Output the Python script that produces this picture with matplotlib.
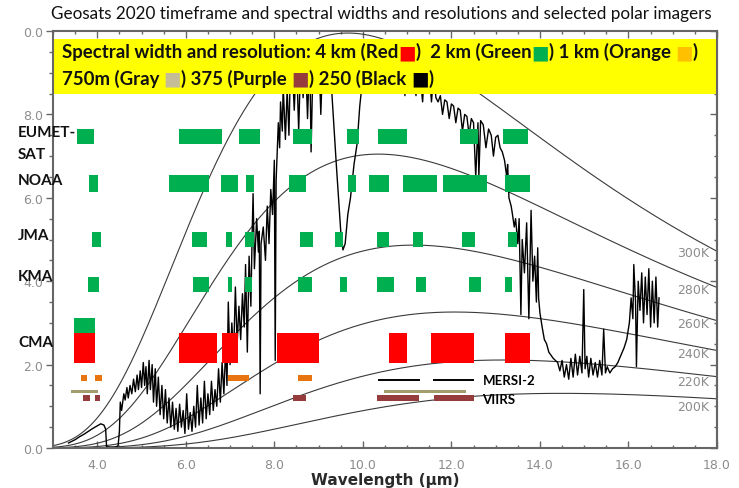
import numpy as np
import matplotlib.pyplot as plt
from matplotlib.patches import Rectangle
from matplotlib.ticker import MultipleLocator, FixedLocator

# ---- blackbody reference curves ----
temps = [200, 220, 240, 260, 280, 300]
temp_label_y = [1.00, 1.60, 2.26, 2.98, 3.81, 4.69]

C1 = 1.191e8    # 2hc^2  [W um^4 m-2 sr-1]
C2 = 14388.0    # hc/k   [um K]


def planck(lam, T):
    return C1 / lam**5 / (np.exp(C2 / (lam * T)) - 1.0)


# ---- sample clear-sky radiance spectrum (um, W m-2 sr-1 um-1) ----
spectrum = [
    (3.35, 0.12), (3.50, 0.20), (3.60, 0.27), (3.70, 0.33), (3.80, 0.40), (3.90, 0.47),
    (4.00, 0.53), (4.08, 0.58), (4.15, 0.55), (4.19, 0.45), (4.21, 0.03), (4.30, 0.02),
    (4.40, 0.02), (4.47, 0.05), (4.50, 0.40), (4.52, 1.10), (4.55, 0.90), (4.60, 1.30),
    (4.63, 1.15), (4.67, 1.45), (4.70, 1.20), (4.74, 1.50), (4.78, 1.30), (4.82, 1.65),
    (4.86, 1.35), (4.90, 1.75), (4.93, 1.40), (4.97, 1.85), (5.00, 1.45), (5.04, 2.05),
    (5.07, 1.50), (5.10, 1.95), (5.13, 1.30), (5.17, 2.10), (5.20, 1.40), (5.24, 2.00),
    (5.27, 1.10), (5.31, 1.90), (5.34, 1.00), (5.38, 1.70), (5.42, 0.80), (5.46, 1.50),
    (5.50, 0.70), (5.54, 1.40), (5.58, 0.60), (5.62, 1.20), (5.66, 0.50), (5.70, 1.10),
    (5.74, 0.45), (5.78, 0.95), (5.82, 0.40), (5.86, 1.05), (5.90, 0.50), (5.94, 0.90),
    (5.98, 0.35), (6.02, 1.30), (6.06, 0.45), (6.10, 0.85), (6.14, 0.40), (6.18, 1.00),
    (6.22, 0.50), (6.26, 1.50), (6.30, 0.55), (6.34, 1.20), (6.38, 0.60), (6.42, 1.60),
    (6.46, 0.70), (6.50, 1.30), (6.54, 0.80), (6.58, 1.60), (6.62, 0.90), (6.66, 1.40),
    (6.70, 1.00), (6.74, 1.90), (6.78, 1.10), (6.82, 2.05), (6.86, 1.30), (6.90, 2.40),
    (6.93, 1.50), (6.96, 3.50), (7.00, 2.00), (7.04, 3.00), (7.08, 2.20), (7.12, 3.86),
    (7.16, 2.50), (7.20, 3.40), (7.24, 2.60), (7.28, 3.70), (7.32, 2.90), (7.35, 4.40),
    (7.39, 2.30), (7.43, 4.60), (7.47, 3.40), (7.50, 5.20), (7.52, 6.10), (7.55, 4.30),
    (7.60, 5.50), (7.64, 4.70), (7.66, 5.20), (7.68, 1.30), (7.70, 4.90), (7.75, 5.30),
    (7.80, 4.50), (7.84, 5.80), (7.88, 4.90), (7.92, 6.20), (7.96, 5.60), (8.00, 6.90),
    (8.02, 2.10), (8.04, 6.40), (8.09, 7.80), (8.12, 7.20), (8.14, 8.30), (8.18, 7.60),
    (8.20, 8.70), (8.25, 7.40), (8.29, 8.60), (8.33, 7.50), (8.36, 9.00), (8.40, 9.30),
    (8.45, 8.10), (8.50, 9.40), (8.55, 7.60), (8.60, 9.50), (8.65, 8.40), (8.70, 9.50),
    (8.75, 7.90), (8.80, 9.50), (8.83, 7.10), (8.88, 9.60), (8.95, 8.80), (9.00, 9.60),
    (9.05, 8.00), (9.10, 9.60), (9.18, 9.20), (9.25, 9.50), (9.30, 8.50), (9.40, 6.80),
    (9.50, 5.20), (9.55, 4.75), (9.60, 4.90), (9.66, 5.60), (9.72, 6.00), (9.80, 6.80),
    (9.87, 7.30), (9.93, 8.20), (9.97, 8.60), (10.02, 9.40), (10.10, 9.60), (10.20, 9.50),
    (10.30, 9.70), (10.45, 9.50), (10.60, 9.70), (10.75, 9.50), (10.90, 9.60), (10.95, 8.45),
    (11.00, 9.40), (11.10, 9.50), (11.20, 8.45), (11.25, 9.40), (11.35, 8.30), (11.40, 9.30),
    (11.50, 9.00), (11.55, 8.30), (11.60, 9.00), (11.65, 8.40), (11.70, 8.30), (11.75, 8.45),
    (11.80, 8.00), (11.85, 8.35), (11.90, 8.30), (11.95, 7.90), (12.00, 8.25), (12.05, 8.20),
    (12.10, 7.80), (12.15, 8.15), (12.20, 8.10), (12.25, 7.60), (12.30, 8.00), (12.35, 7.95),
    (12.40, 7.50), (12.45, 7.90), (12.50, 7.80), (12.55, 6.50), (12.60, 7.80), (12.62, 6.50),
    (12.66, 7.85), (12.72, 7.75), (12.78, 7.20), (12.84, 7.65), (12.90, 7.50), (12.95, 7.00),
    (13.00, 7.45), (13.05, 7.50), (13.10, 7.20), (13.15, 7.10), (13.20, 6.90), (13.25, 6.50),
    (13.27, 6.80), (13.30, 6.00), (13.35, 5.80), (13.38, 5.60), (13.42, 5.30), (13.45, 5.50),
    (13.50, 4.90), (13.53, 5.50), (13.57, 3.20), (13.60, 5.00), (13.65, 4.20), (13.70, 5.40),
    (13.75, 3.10), (13.80, 5.70), (13.84, 4.00), (13.88, 4.60), (13.92, 3.50), (13.95, 4.80),
    (13.97, 3.60), (14.00, 3.24), (14.05, 2.90), (14.10, 2.60), (14.15, 2.50), (14.20, 2.30),
    (14.30, 2.15), (14.40, 2.05), (14.45, 1.85), (14.50, 2.10), (14.55, 1.70), (14.60, 2.00),
    (14.65, 1.65), (14.70, 2.15), (14.75, 1.70), (14.80, 2.25), (14.85, 1.75), (14.90, 2.20),
    (14.95, 1.80), (14.99, 3.80), (15.02, 1.90), (15.06, 2.20), (15.10, 1.70), (15.15, 2.15),
    (15.20, 1.75), (15.25, 2.05), (15.30, 1.70), (15.35, 2.10), (15.40, 1.75), (15.44, 2.85),
    (15.48, 1.80), (15.52, 1.95), (15.58, 1.80), (15.64, 1.90), (15.70, 1.95), (15.76, 2.05),
    (15.82, 2.20), (15.90, 2.40), (15.96, 2.60), (16.02, 3.00), (16.06, 3.60), (16.10, 3.10),
    (16.12, 4.40), (16.16, 3.50), (16.18, 1.95), (16.22, 4.00), (16.26, 3.30), (16.30, 4.20),
    (16.34, 3.00), (16.38, 4.10), (16.42, 3.20), (16.46, 4.30), (16.50, 2.90), (16.54, 4.00),
    (16.58, 3.00), (16.62, 4.10), (16.66, 2.90), (16.69, 3.60),
]
spec_wl = [p[0] for p in spectrum]
spec_rad = [p[1] for p in spectrum]

# ---- imager channels: (start um, end um) ----
eumetsat_2km = [(3.54, 3.93), (5.85, 6.82), (7.21, 7.68), (8.43, 8.84), (9.65, 9.92),
                (10.35, 11.00), (12.19, 12.60), (13.16, 13.72)]
noaa_2km = [(3.81, 4.02), (5.62, 6.53), (6.80, 7.19), (7.37, 7.55), (8.34, 8.72), (9.67, 9.85),
            (10.13, 10.60), (10.90, 11.67), (11.82, 12.80), (13.20, 13.77)]
jma_2km = [(3.88, 4.09), (6.14, 6.48), (6.91, 7.05), (7.34, 7.53), (8.57, 8.88), (9.38, 9.54),
           (10.33, 10.60), (11.14, 11.35), (12.23, 12.53), (13.27, 13.48)]
kma_2km = [(3.80, 4.04), (6.17, 6.53), (6.96, 7.05), (7.34, 7.50), (8.54, 8.86), (9.49, 9.65),
           (10.33, 10.70), (11.19, 11.42), (12.39, 12.66), (13.20, 13.36)]
cma_2km = [(3.48, 3.95)]
cma_4km = [(3.48, 3.95), (5.85, 6.71), (6.82, 7.19), (8.05, 9.00), (10.60, 11.00),
           (11.55, 12.50), (13.20, 13.77)]
polar_1km = [(3.63, 3.77), (3.95, 4.10), (6.96, 7.43), (8.54, 8.86)]
mersi_250m = [(10.35, 11.28), (11.58, 12.50)]
viirs_750m = [(3.41, 4.02), (10.47, 12.32)]
viirs_375m = [(3.68, 3.84), (3.95, 4.07), (8.43, 8.72), (10.31, 11.26), (11.60, 12.50)]

GREEN, RED, ORANGE = '#00b050', '#ff0000', '#e8740f'
TAN, PURPLE = '#a39d6e', '#963c3c'
GRAY_TXT = '#8c8c8c'

fig = plt.figure(figsize=(7.39, 4.89), dpi=100)
ax = fig.add_axes([53 / 739, 40 / 489, 664 / 739, 417 / 489])

lam = np.linspace(3.0, 18.0, 700)
for T, ly in zip(temps, temp_label_y):
    ax.plot(lam, planck(lam, T), color='#3a3a3a', lw=0.8, zorder=2)
    ax.text(17.82, ly, f'{T}K', color=GRAY_TXT, fontsize=9, ha='right', va='center', zorder=3)

ax.plot(spec_wl, spec_rad, color='black', lw=1.0, zorder=3)


def bands(spans, y0, h, color):
    ax.broken_barh([(a, b - a) for a, b in spans], (y0, h), facecolors=color, zorder=4)


bands(eumetsat_2km, 7.29, 0.36, GREEN)
bands(noaa_2km, 6.15, 0.39, GREEN)
bands(jma_2km, 4.83, 0.35, GREEN)
bands(kma_2km, 3.74, 0.36, GREEN)
bands(cma_2km, 2.76, 0.36, GREEN)
bands(cma_4km, 2.05, 0.70, RED)
bands(polar_1km, 1.60, 0.14, ORANGE)
bands(viirs_750m, 1.31, 0.07, TAN)
bands(viirs_375m, 1.13, 0.13, PURPLE)
ax.hlines([1.64] * len(mersi_250m), [a for a, b in mersi_250m], [b for a, b in mersi_250m],
          color='black', lw=1.4, zorder=4)
ax.text(12.70, 1.64, 'MERSI-2', fontsize=9.5, fontweight='bold', family='Lato',
        va='center', ha='left', zorder=5)
ax.text(12.70, 1.17, 'VIIRS', fontsize=9.5, fontweight='bold', family='Lato',
        va='center', ha='left', zorder=5)

# axes, ticks
ax.set_xlim(3, 18)
ax.set_ylim(0, 10)
ax.xaxis.set_major_locator(FixedLocator([4, 6, 8, 10, 12, 14, 16, 18]))
ax.xaxis.set_minor_locator(MultipleLocator(0.5))
ax.set_xticklabels(['4.0', '6.0', '8.0', '10.0', '12.0', '14.0', '16.0', '18.0'])
ax.yaxis.set_major_locator(FixedLocator([0, 2, 4, 6, 8, 10]))
ax.yaxis.set_minor_locator(MultipleLocator(0.5))
ax.set_yticklabels(['0.0', '2.0', '4.0', '6.0', '8.0', '0.0'])
ax.tick_params(axis='x', which='both', direction='in', top=True, colors='#666666',
               labelcolor=GRAY_TXT, labelsize=9, pad=7)
ax.tick_params(axis='x', which='major', length=5, width=1)
ax.tick_params(axis='x', which='minor', length=2.5, width=1)
ax.tick_params(axis='y', which='both', direction='out', colors='#666666',
               labelcolor=GRAY_TXT, labelsize=9, pad=2)
ax.tick_params(axis='y', which='major', length=5, width=1)
ax.tick_params(axis='y', which='minor', length=3, width=1)

sec = ax.secondary_yaxis('right')
sec.yaxis.set_major_locator(MultipleLocator(2))
sec.yaxis.set_minor_locator(MultipleLocator(0.5))
sec.tick_params(which='both', direction='in', labelright=False, colors='#666666', width=1)
sec.tick_params(which='major', length=5)
sec.tick_params(which='minor', length=2.5)
sec.spines['right'].set_color('#666666')
sec.spines['right'].set_linewidth(1.5)

for s in ax.spines.values():
    s.set_color('#666666')
    s.set_linewidth(1.5)
    s.set_zorder(10)

ax.set_xlabel('Wavelength (\u00b5m)', fontsize=11, fontweight='bold', color='#2a2a2a',
              labelpad=1)

# yellow key box
ax.add_patch(Rectangle((0.0, 0.849), 1.0, 0.133, transform=ax.transAxes,
                       facecolor='#ffff00', edgecolor='none', zorder=6))

key_font = dict(fontsize=13.4, fontweight='bold', family=['Lato', 'DejaVu Sans'], zorder=7)


def key_line(y, parts):
    art = ax.text(0.013, y, parts[0][0], color=parts[0][1], transform=ax.transAxes,
                  ha='left', va='bottom', **key_font)
    for s, c in parts[1:]:
        art = ax.annotate(s, xy=(1, 0), xycoords=art, ha='left', va='bottom',
                          color=c, **key_font)


key_line(0.930, [('Spectral width and resolution: 4 km (Red', '#111111'), ('\u25a0', RED),
                 (')  2 km (Green', '#111111'), ('\u25a0', GREEN),
                 (') 1 km (Orange ', '#111111'), ('\u25a0', '#ffc000'), (')', '#111111')])
key_line(0.866, [('750m (Gray ', '#111111'), ('\u25a0', '#c4bd97'),
                 (') 375 (Purple ', '#111111'), ('\u25a0', PURPLE),
                 (') 250 (Black ', '#111111'), ('\u25a0', 'black'), (')', '#111111')])

# agency labels
for label, ypx in [('EUMET-', 133), ('SAT', 155), ('NOAA', 181), ('JMA', 236),
                   ('KMA', 277), ('CMA', 343)]:
    fig.text(18 / 739, 1 - ypx / 489, label, fontsize=11, fontweight='bold', family='Lato',
             ha='left', va='center', color='#111111', zorder=8)

fig.text(381 / 739, 1 - 14 / 489,
         'Geosats 2020 timeframe and spectral widths and resolutions and selected polar imagers',
         fontsize=12.3, family='Lato', ha='center', va='center', color='#111111')

fig.savefig('out.png', dpi=100)
